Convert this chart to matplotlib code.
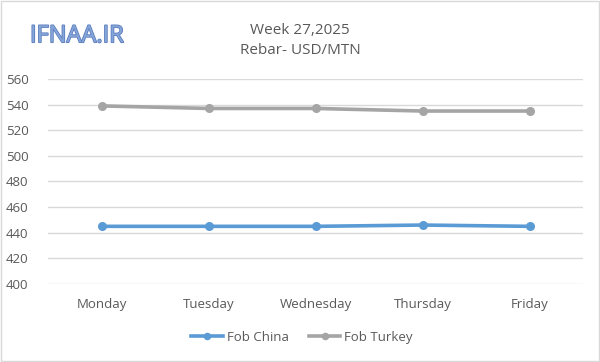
import matplotlib
matplotlib.use("Agg")
import matplotlib.pyplot as plt
import matplotlib.patheffects as pe
from matplotlib.patches import Rectangle

days = ["Monday", "Tuesday", "Wednesday", "Thursday", "Friday"]
fob_china = [445, 445, 445, 446, 445]
fob_turkey = [539, 537, 537, 535, 535]
yticks = [400, 420, 440, 460, 480, 500, 520, 540, 560]

plt.rcParams['font.family'] = ['Open Sans', 'DejaVu Sans']
txt = '#595959'

fig = plt.figure(figsize=(6, 3.62), dpi=100)
ax = fig.add_axes([0.08, 0.2155, 0.8917, 0.5663])

x = range(len(days))
ax.plot(x, fob_china, color='#5b9bd5', lw=2.6, marker='o', ms=5.5, label='Fob China', zorder=3)
ax.plot(x, fob_turkey, color='#a5a5a5', lw=2.6, marker='o', ms=5.5, label='Fob Turkey', zorder=3)

ax.set_xlim(-0.5, 4.5)
ax.set_ylim(400, 560)
ax.set_yticks(yticks)
ax.set_xticks(list(x))
ax.set_xticklabels(days)
ax.grid(axis='y', color='#d9d9d9', lw=1)
ax.set_axisbelow(True)
for s in ax.spines.values():
    s.set_visible(False)
ax.tick_params(length=0, labelsize=9.5, labelcolor=txt)
ax.tick_params(axis='x', pad=10)
ax.tick_params(axis='y', pad=14)

fig.text(0.5, 0.917, 'Week 27,2025', ha='center', va='center', fontsize=11, color=txt)
fig.text(0.5, 0.86, 'Rebar- USD/MTN', ha='center', va='center', fontsize=11, color=txt)

fig.text(0.05, 0.9, 'IFNAA.IR', ha='left', va='center', fontsize=17, color='#86a6da',
         path_effects=[pe.withStroke(linewidth=1.2, foreground='#5a7dbd')])

ax.legend(loc='center', bbox_to_anchor=(0.475, -0.26), ncol=2, frameon=False,
          fontsize=9.5, labelcolor=txt, handlelength=2.4, columnspacing=1.5,
          handletextpad=0.3, markerscale=0.8)

fig.patches.append(Rectangle((0.002, 0.003), 0.996, 0.994, transform=fig.transFigure,
                             fill=False, edgecolor='#d9d9d9', lw=1))

fig.savefig('out.png', dpi=100, facecolor='white')
